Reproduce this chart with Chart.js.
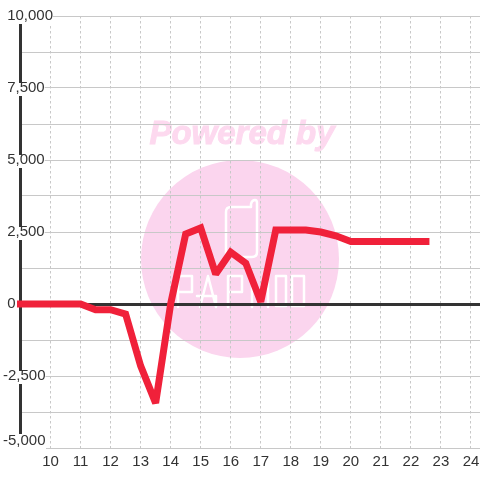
<!DOCTYPE html>
<html>
<head>
<meta charset="utf-8">
<style>
  html, body { margin: 0; padding: 0; background: #fff; }
  canvas { display: block; }
</style>
<script src="https://cdn.jsdelivr.net/npm/chart.js@4"></script>
</head>
<body>
<canvas id="myChart" width="480" height="480"></canvas>
<script>
const hours = [9, 9.5, 10, 10.5, 11, 11.5, 12, 12.5, 13, 13.5, 14, 14.5, 15, 15.5, 16, 16.5, 17, 17.5, 18, 18.5, 19, 19.5, 20, 20.5, 21, 21.5, 22, 22.5];
const values = [0, 0, 0, 0, 0, -200, -200, -350, -2150, -3440, 0, 2430, 2640, 1040, 1800, 1420, 80, 2570, 2570, 2570, 2500, 2370, 2170, 2170, 2170, 2170, 2170, 2170];
const yTickValues = [10000, 7500, 5000, 2500, 0, -2500, -5000];
const yTickLabels = ['10,000', '7,500', '5,000', '2,500', '0', '-2,500', '-5,000'];

const textColor = '#333333';
const gridColor = '#c8c8c8';
const bottomTick = -5000;

// the scales must not reserve room for overhanging labels
function noAxisPadding(scale) {
  scale.paddingLeft = 0;
  scale.paddingRight = 0;
  scale.paddingTop = 0;
  scale.paddingBottom = 0;
}

// watermark sits under the grid
const watermark = {
  id: 'watermark',
  beforeDraw(chart) {
    const ctx = chart.ctx;
    ctx.save();
    ctx.fillStyle = '#fff';
    ctx.fillRect(0, 0, 480, 480);

    ctx.fillStyle = '#fbd5ee';
    ctx.beginPath();
    ctx.arc(240, 259, 99, 0, Math.PI * 2);
    ctx.fill();

    ctx.fillStyle = '#fdd9ef';
    ctx.strokeStyle = '#fdd9ef';
    ctx.lineWidth = 1;
    ctx.font = 'italic bold 33px "Liberation Sans"';
    ctx.textAlign = 'center';
    ctx.textBaseline = 'middle';
    ctx.fillText('Powered by', 242, 135);
    ctx.strokeText('Powered by', 242, 135);

    // phone outline
    ctx.strokeStyle = '#fff';
    ctx.lineWidth = 2.5;
    ctx.lineJoin = 'round';
    ctx.lineCap = 'round';
    ctx.beginPath();
    ctx.moveTo(251, 207);
    ctx.lineTo(231, 207);
    ctx.quadraticCurveTo(226, 207, 226, 212);
    ctx.lineTo(226, 256);
    ctx.moveTo(251, 207);
    ctx.lineTo(251, 204);
    ctx.quadraticCurveTo(252, 200, 255, 200);
    ctx.quadraticCurveTo(257, 200, 257, 203);
    ctx.lineTo(257, 252);
    ctx.quadraticCurveTo(257, 257, 252, 257);
    ctx.lineTo(236, 257);
    ctx.stroke();

    // logo letters
    const letters = [
      [[178, 307], [178, 276], [192, 276], [192, 292], [178, 292]],
      [[200, 307], [208, 276], [216, 307], [216, 296], [197, 296]],
      [[228, 307], [228, 276], [242, 276], [242, 292], [228, 292]],
      [[252, 307], [252, 276], [260, 296], [268, 276], [268, 307]],
      [[276, 276], [276, 306], [286, 306], [286, 276], [276, 276]],
      [[292, 276], [292, 306], [304, 306], [304, 276], [292, 276]]
    ];
    letters.forEach((pts) => {
      ctx.beginPath();
      pts.forEach((p, i) => i === 0 ? ctx.moveTo(p[0], p[1]) : ctx.lineTo(p[0], p[1]));
      ctx.stroke();
    });
    ctx.restore();
  }
};

// the bottom label sits above its tick, so clear the axis and grid behind it by hand
const bottomLabelGap = {
  id: 'bottomLabelGap',
  beforeDatasetsDraw(chart) {
    const y = chart.scales.y.getPixelForValue(bottomTick);
    const ctx = chart.ctx;
    ctx.save();
    ctx.fillStyle = '#fff';
    ctx.fillRect(3, y - 14, 43, 16);
    ctx.restore();
    // sharp turns of the line end flat in the reference
    ctx.miterLimit = 2;
  }
};

new Chart(document.getElementById('myChart').getContext('2d'), {
  type: 'line',
  plugins: [watermark, bottomLabelGap],
  data: {
    datasets: [{
      data: hours.map((h, i) => ({ x: h, y: values[i] })),
      borderColor: '#f0213a',
      borderWidth: 7,
      borderCapStyle: 'square',
      borderJoinStyle: 'miter',
      pointRadius: 0,
      tension: 0,
      fill: false,
      clip: false
    }]
  },
  options: {
    responsive: false,
    animation: false,
    layout: { padding: { left: 20.5, top: 16, right: 0, bottom: 4 } },
    plugins: { legend: { display: false }, tooltip: { enabled: false } },
    scales: {
      x: {
        type: 'linear',
        min: 9,
        max: 24.3,
        afterFit: noAxisPadding,
        border: { display: false, dash: [2.5, 2.5] },
        grid: { color: gridColor, lineWidth: 1, drawTicks: false },
        ticks: {
          stepSize: 1,
          includeBounds: false,
          autoSkip: false,
          maxRotation: 0,
          padding: 5,
          z: 1,
          color: textColor,
          font: { family: '"Liberation Sans"', size: 15 },
          callback: (v) => (v === 9 ? '' : String(v))
        }
      },
      y: {
        type: 'linear',
        min: -5000,
        max: 10000,
        afterFit: (scale) => {
          noAxisPadding(scale);
          scale.width = 0;
        },
        border: { display: true, color: textColor, width: 3 },
        grid: {
          drawTicks: false,
          color: (c) => (c.tick && c.tick.value === 0 ? textColor : gridColor),
          lineWidth: (c) => (c.tick && c.tick.value === 0 ? 3 : 1)
        },
        ticks: {
          stepSize: 1250,
          autoSkip: false,
          mirror: true,
          padding: -17.5,
          z: 1,
          color: textColor,
          showLabelBackdrop: (c) => !(c.tick && c.tick.value === bottomTick),
          backdropColor: '#fff',
          backdropPadding: { top: -4, bottom: -1, left: 0, right: 0 },
          font: (c) => ({
            family: '"Liberation Sans"',
            size: 15,
            lineHeight: c.tick && c.tick.value === bottomTick ? 14 / 15 : 1.2
          }),
          callback: (v) => {
            const i = yTickValues.indexOf(v);
            if (i < 0) return '';
            if (v === bottomTick) return [yTickLabels[i], ''];
            return v < 0 ? yTickLabels[i] : ' ' + yTickLabels[i];
          }
        }
      }
    }
  }
});
</script>
</body>
</html>
